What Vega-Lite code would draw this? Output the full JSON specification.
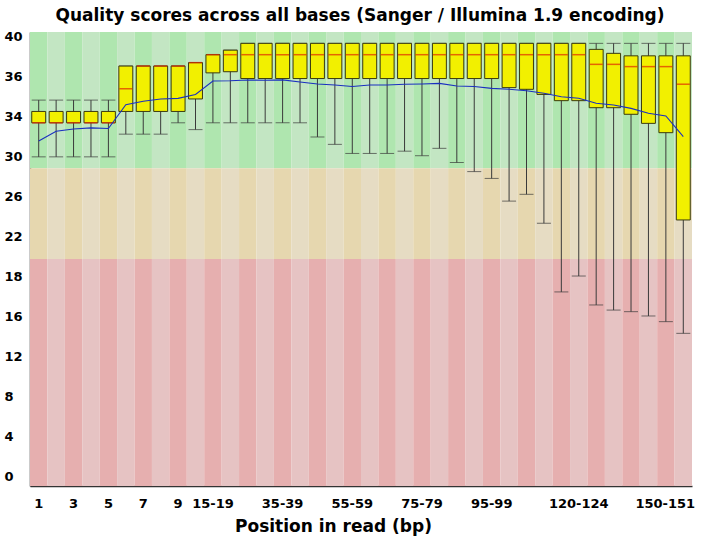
{
  "$schema": "https://vega.github.io/schema/vega-lite/v6.json",
  "autosize": "none",
  "width": 662,
  "height": 454,
  "padding": {"left": 30, "top": 32, "right": 16, "bottom": 56},
  "background": "white",
  "title": {
    "text": "Quality scores across all bases (Sanger / Illumina 1.9 encoding)",
    "font": "DejaVu Sans",
    "fontSize": 17,
    "fontWeight": "bold",
    "color": "black",
    "anchor": "middle",
    "offset": 5,
    "dx": -1
  },
  "config": {
    "view": {"stroke": null},
    "axis": {
      "labelFont": "DejaVu Sans",
      "labelFontSize": 13,
      "labelFontWeight": "bold",
      "labelColor": "black",
      "titleFont": "DejaVu Sans",
      "titleFontWeight": "bold",
      "titleColor": "black",
      "grid": false,
      "ticks": false,
      "tickSize": 0,
      "domainColor": "#333333",
      "domainWidth": 1.5,
      "zindex": 1
    },
    "axisY": {
      "labelAlign": "left",
      "labelBaseline": "middle",
      "labelPadding": 26,
      "labelOverlap": false
    }
  },
  "data": {
    "values": [
      {"idx": 0, "pos": "1", "mean": 30.4, "med": 32, "lq": 32, "uq": 33, "p10": 29, "p90": 34},
      {"idx": 1, "pos": "2", "mean": 31.25, "med": 32, "lq": 32, "uq": 33, "p10": 29, "p90": 34},
      {"idx": 2, "pos": "3", "mean": 31.45, "med": 32, "lq": 32, "uq": 33, "p10": 29, "p90": 34},
      {"idx": 3, "pos": "4", "mean": 31.55, "med": 32, "lq": 32, "uq": 33, "p10": 29, "p90": 34},
      {"idx": 4, "pos": "5", "mean": 31.5, "med": 32, "lq": 32, "uq": 33, "p10": 29, "p90": 34},
      {"idx": 5, "pos": "6", "mean": 33.6, "med": 35, "lq": 33, "uq": 37, "p10": 31, "p90": 37},
      {"idx": 6, "pos": "7", "mean": 33.9, "med": 37, "lq": 33, "uq": 37, "p10": 31, "p90": 37},
      {"idx": 7, "pos": "8", "mean": 34.1, "med": 37, "lq": 33, "uq": 37, "p10": 31, "p90": 37},
      {"idx": 8, "pos": "9", "mean": 34.15, "med": 37, "lq": 33, "uq": 37, "p10": 32, "p90": 37},
      {"idx": 9, "pos": "10-14", "mean": 34.5, "med": 37.3, "lq": 34.1, "uq": 37.3, "p10": 31.4, "p90": 37.3},
      {"idx": 10, "pos": "15-19", "mean": 35.68, "med": 38, "lq": 36.4, "uq": 38, "p10": 32, "p90": 38},
      {"idx": 11, "pos": "20-24", "mean": 35.7, "med": 38, "lq": 36.5, "uq": 38.4, "p10": 32, "p90": 38.4},
      {"idx": 12, "pos": "25-29", "mean": 35.77, "med": 38, "lq": 35.9, "uq": 39, "p10": 32, "p90": 39},
      {"idx": 13, "pos": "30-34", "mean": 35.75, "med": 38, "lq": 35.9, "uq": 39, "p10": 32, "p90": 39},
      {"idx": 14, "pos": "35-39", "mean": 35.78, "med": 38, "lq": 35.9, "uq": 39, "p10": 32, "p90": 39},
      {"idx": 15, "pos": "40-44", "mean": 35.6, "med": 38, "lq": 35.9, "uq": 39, "p10": 32, "p90": 39},
      {"idx": 16, "pos": "45-49", "mean": 35.42, "med": 38, "lq": 35.9, "uq": 39, "p10": 30.75, "p90": 39},
      {"idx": 17, "pos": "50-54", "mean": 35.33, "med": 38, "lq": 35.9, "uq": 39, "p10": 30.1, "p90": 39},
      {"idx": 18, "pos": "55-59", "mean": 35.2, "med": 38, "lq": 35.9, "uq": 39, "p10": 29.3, "p90": 39},
      {"idx": 19, "pos": "60-64", "mean": 35.33, "med": 38, "lq": 35.9, "uq": 39, "p10": 29.3, "p90": 39},
      {"idx": 20, "pos": "65-69", "mean": 35.33, "med": 38, "lq": 35.9, "uq": 39, "p10": 29.3, "p90": 39},
      {"idx": 21, "pos": "70-74", "mean": 35.4, "med": 38, "lq": 35.9, "uq": 39, "p10": 29.5, "p90": 39},
      {"idx": 22, "pos": "75-79", "mean": 35.42, "med": 38, "lq": 35.9, "uq": 39, "p10": 29.1, "p90": 39},
      {"idx": 23, "pos": "80-84", "mean": 35.47, "med": 38, "lq": 35.9, "uq": 39, "p10": 29.75, "p90": 39},
      {"idx": 24, "pos": "85-89", "mean": 35.24, "med": 38, "lq": 35.9, "uq": 39, "p10": 28.5, "p90": 39},
      {"idx": 25, "pos": "90-94", "mean": 35.2, "med": 38, "lq": 35.9, "uq": 39, "p10": 27.7, "p90": 39},
      {"idx": 26, "pos": "95-99", "mean": 35.03, "med": 38, "lq": 35.9, "uq": 39, "p10": 27.1, "p90": 39},
      {"idx": 27, "pos": "100-104", "mean": 34.95, "med": 38, "lq": 35.1, "uq": 39, "p10": 25.1, "p90": 39},
      {"idx": 28, "pos": "105-109", "mean": 34.83, "med": 38, "lq": 34.95, "uq": 39, "p10": 25.7, "p90": 39},
      {"idx": 29, "pos": "110-114", "mean": 34.6, "med": 38, "lq": 34.5, "uq": 39, "p10": 23.15, "p90": 39},
      {"idx": 30, "pos": "115-119", "mean": 34.3, "med": 38, "lq": 33.95, "uq": 39, "p10": 17.1, "p90": 39},
      {"idx": 31, "pos": "120-124", "mean": 34.16, "med": 38, "lq": 33.95, "uq": 39, "p10": 18.5, "p90": 39},
      {"idx": 32, "pos": "125-129", "mean": 33.72, "med": 37.15, "lq": 33.33, "uq": 38.47, "p10": 15.95, "p90": 39},
      {"idx": 33, "pos": "130-134", "mean": 33.57, "med": 37.15, "lq": 33.33, "uq": 38.12, "p10": 15.5, "p90": 39},
      {"idx": 34, "pos": "135-139", "mean": 33.27, "med": 36.95, "lq": 32.75, "uq": 37.9, "p10": 15.36, "p90": 39},
      {"idx": 35, "pos": "140-144", "mean": 32.84, "med": 36.95, "lq": 31.95, "uq": 37.9, "p10": 14.98, "p90": 39},
      {"idx": 36, "pos": "145-149", "mean": 32.6, "med": 36.95, "lq": 31.13, "uq": 37.9, "p10": 14.48, "p90": 39},
      {"idx": 37, "pos": "150-151", "mean": 30.78, "med": 35.4, "lq": 23.44, "uq": 37.9, "p10": 13.45, "p90": 39}
    ]
  },
  "encoding": {
    "x": {
      "field": "pos",
      "type": "nominal",
      "scale": {
        "domain": ["1","2","3","4","5","6","7","8","9","10-14","15-19","20-24","25-29","30-34","35-39","40-44","45-49","50-54","55-59","60-64","65-69","70-74","75-79","80-84","85-89","90-94","95-99","100-104","105-109","110-114","115-119","120-124","125-129","130-134","135-139","140-144","145-149","150-151"],
        "paddingInner": 0,
        "paddingOuter": 0
      },
      "axis": {
        "values": ["1","3","5","7","9","15-19","35-39","55-59","75-79","95-99","120-124","150-151"],
        "labelOverlap": false,
        "labelAngle": 0,
        "labelPadding": 11,
        "labelOffset": {"condition": {"test": "datum.value == '150-151'", "value": -18}, "value": 0},
        "title": "Position in read (bp)",
        "titleFontSize": 17,
        "titleAnchor": "start",
        "titleAlign": "center",
        "titleBaseline": "alphabetic",
        "titleX": 303,
        "titleY": 45
      }
    }
  },
  "layer": [
    {
      "mark": {"type": "rect"},
      "encoding": {
        "y": {
          "datum": 28,
          "type": "quantitative",
          "title": null,
          "scale": {"domain": [0, 40], "nice": false, "zero": false},
          "axis": {
            "values": [0.8, 4.33, 7.86, 11.39, 14.92, 18.45, 21.98, 25.51, 29.04, 32.57, 36.1, 39.63],
            "labelExpr": "datum.value < 2 ? '0' : datum.value < 6 ? '4' : datum.value < 9 ? '8' : datum.value < 13 ? '12' : datum.value < 16 ? '16' : datum.value < 20 ? '18' : datum.value < 23 ? '22' : datum.value < 27 ? '26' : datum.value < 31 ? '30' : datum.value < 34 ? '34' : datum.value < 38 ? '36' : '40'",
            "title": null
          }
        },
        "y2": {"datum": 40},
        "fill": {"condition": {"test": "datum.idx % 2 == 0", "value": "#afe6af"}, "value": "#c3e6c3"}
      }
    },
    {
      "mark": {"type": "rect"},
      "encoding": {
        "y": {"datum": 20, "type": "quantitative", "title": null},
        "y2": {"datum": 28},
        "fill": {"condition": {"test": "datum.idx % 2 == 0", "value": "#e6d7af"}, "value": "#e6dcc3"}
      }
    },
    {
      "mark": {"type": "rect"},
      "encoding": {
        "y": {"datum": 0, "type": "quantitative", "title": null},
        "y2": {"datum": 20},
        "fill": {"condition": {"test": "datum.idx % 2 == 0", "value": "#e6afaf"}, "value": "#e6c3c3"}
      }
    },
    {
      "mark": {"type": "rule", "color": "#3a3a3a", "strokeWidth": 1},
      "encoding": {
        "y": {"field": "p10", "type": "quantitative", "title": null},
        "y2": {"field": "p90"}
      }
    },
    {
      "mark": {"type": "tick", "orient": "horizontal", "color": "#3a3a3a", "size": 14, "thickness": 1},
      "encoding": {
        "y": {"field": "p10", "type": "quantitative", "title": null}
      }
    },
    {
      "mark": {"type": "tick", "orient": "horizontal", "color": "#3a3a3a", "size": 14, "thickness": 1},
      "encoding": {
        "y": {"field": "p90", "type": "quantitative", "title": null}
      }
    },
    {
      "mark": {"type": "bar", "fill": "#f2f000", "stroke": "#3a3a10", "strokeWidth": 1, "width": {"band": 0.8}},
      "encoding": {
        "y": {"field": "lq", "type": "quantitative", "title": null},
        "y2": {"field": "uq"}
      }
    },
    {
      "mark": {"type": "tick", "orient": "horizontal", "color": "#e02a00", "size": 13, "thickness": 1.5},
      "encoding": {
        "y": {"field": "med", "type": "quantitative", "title": null}
      }
    },
    {
      "mark": {"type": "line", "color": "#1a2fc0", "strokeWidth": 1.1},
      "encoding": {
        "y": {"field": "mean", "type": "quantitative", "title": null}
      }
    }
  ]
}
